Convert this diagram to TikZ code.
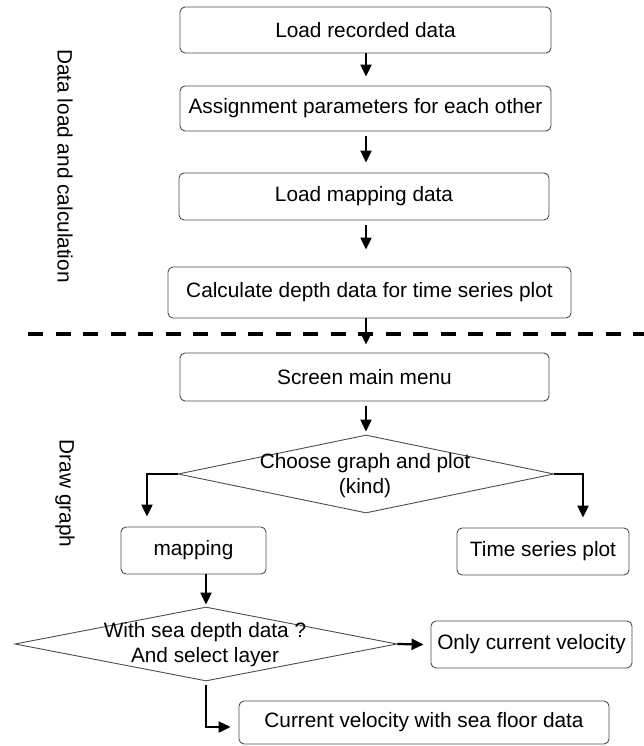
\documentclass[tikz,border=0pt]{standalone}
\usepackage{fontspec}
\setmainfont{Liberation Sans}
\usetikzlibrary{arrows.meta,shapes.geometric,calc}
\begin{document}
\begin{tikzpicture}[x=1pt,y=-1pt,
  every node/.style={font=\fontsize{20.8pt}{25pt}\selectfont},
  box/.style={draw=black!70, line width=0.9pt, rounded corners=5pt, inner sep=0pt, align=center},
  dia/.style={draw=black!70, line width=0.9pt, diamond, inner sep=0pt},
  arr/.style={line width=2.2pt, -{Triangle[width=11pt,length=12pt]}},
  lbl/.style={inner sep=0pt, align=center},
  sep/.style={line width=4pt, dash pattern=on 15pt off 12.5pt}]
\useasboundingbox (0,0) rectangle (644,746);
\coordinate (col) at (366,0);
% boxes
\node[box, minimum width=371pt, minimum height=46pt] (b1) at (365.5,30) {Load recorded data};
\node[box, minimum width=371pt, minimum height=45pt] (b2) at (365.5,108.5) {Assignment parameters for each other};
\node[box, minimum width=370pt, minimum height=47pt] (b3) at (364,196.5) {Load mapping data};
\node[box, minimum width=403pt, minimum height=51pt] (b4) at (369.5,292.5) {Calculate depth data for time series plot};
\node[box, minimum width=369pt, minimum height=48pt] (b5) at (364.5,377) {Screen main menu};
\node[dia, minimum width=376pt, minimum height=78pt] (d1) at (366,474) {};
\node[lbl] (t1) at (365,475.5) {Choose graph and plot\\(kind)};
\node[box, minimum width=145pt, minimum height=47pt] (map) at (193.5,550.5) {mapping};
\node[box, minimum width=172pt, minimum height=47pt] (tsp) at (543,551.5) {Time series plot};
\node[dia, minimum width=382pt, minimum height=74pt] (d2) at (206,644) {};
\node[lbl] (t2) at (205,645) {With sea depth data ?\\And select layer};
\node[box, minimum width=201pt, minimum height=47pt] (only) at (531.5,644.5) {Only current velocity};
\node[box, minimum width=370pt, minimum height=43pt] (cur) at (424,722.5) {Current velocity with sea floor data};
% side labels
\node[lbl, rotate=-90] (l1) at (65,166) {Data load and calculation};
\node[lbl, rotate=-90] (l2) at (65,493.5) {Draw graph};
% separator
\draw[sep] (28,334) -- (644,334);
% connectors
\draw[arr] (b1.south -| col) -- ($(b2.north -| col)+(0,-9)$);
\draw[arr] ($(b2.south -| col)+(0,5)$) -- ($(b3.north -| col)+(0,-10)$);
\draw[arr] ($(b3.south -| col)+(0,5)$) -- ($(b4.north -| col)+(0,-17)$);
\draw[arr] (b4.south -| col) -- ($(b5.north -| col)+(0,-8)$);
\draw[arr] ($(b5.south -| col)+(0,5)$) -- ($(d1.north)+(0,-3)$);
\draw[arr] (d1.west) -| ([xshift=-46.5pt,yshift=10pt]map.north);
\draw[arr] (d1.east) -| ([xshift=40pt,yshift=10pt]tsp.north);
\draw[arr] (map.south -| d2.north) -- ([yshift=2pt]d2.north);
\draw[arr] (d2.east) -- ([xshift=-7pt]only.west);
\draw[arr] ([yshift=-4pt]d2.south) |- ([xshift=-8pt,yshift=-4.5pt]cur.west);
\end{tikzpicture}
\end{document}
